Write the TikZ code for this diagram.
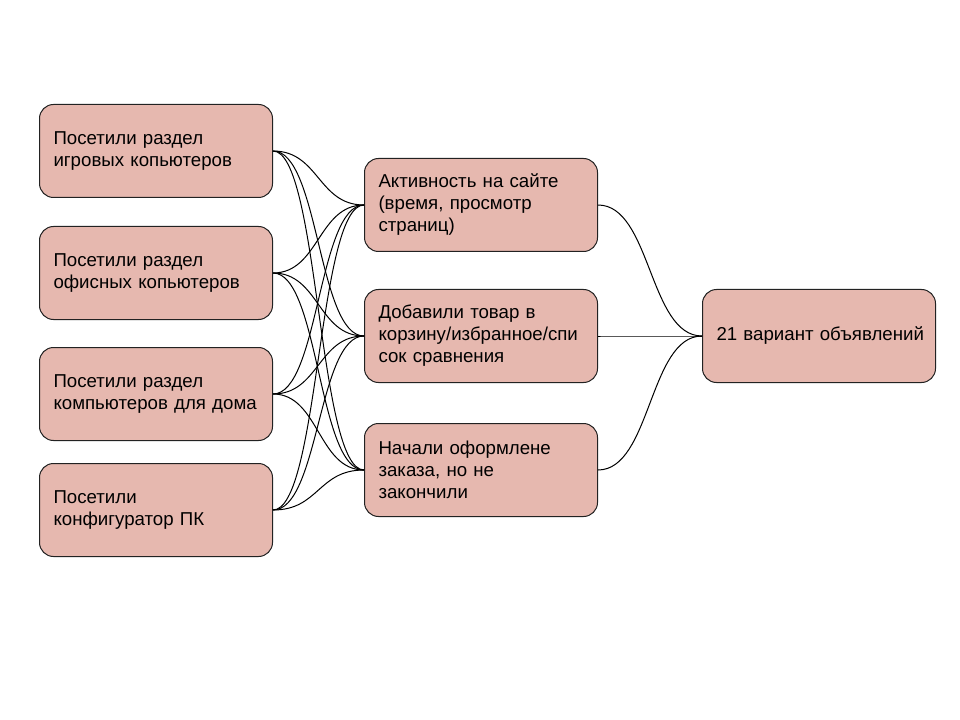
\documentclass[tikz,border=0pt]{standalone}
\usepackage{fontspec}
\setmainfont{Liberation Sans}
\definecolor{boxfill}{HTML}{E6B8AF}
\definecolor{boxline}{HTML}{222222}
\begin{document}
\begin{tikzpicture}[x=0.75pt,y=-0.75pt,
  box/.style={draw=boxline, line width=0.75pt, fill=boxfill, rounded corners=10.5pt,
    minimum width=174.75pt, minimum height=69.75pt, text width=153.75pt,
    align=left, inner xsep=10.5pt, inner ysep=0pt,
    font=\fontsize{14}{16.5}\selectfont, anchor=north west},
  link/.style={line width=0.75pt, draw=black}]
\useasboundingbox (0,0) rectangle (960,720);
\node[box] (l1) at (39,104) {Посетили раздел\\игровых копьютеров};
\node[box] (l2) at (39,226) {Посетили раздел\\офисных копьютеров};
\node[box] (l3) at (39,347) {Посетили раздел\\компьютеров для дома};
\node[box] (l4) at (39,463) {Посетили\\конфигуратор ПК};
\node[box] (m1) at (364,158) {Активность на сайте\\(время, просмотр\\страниц)};
\node[box] (m2) at (364,289) {Добавили товар в\\корзину/избранное/спи\\сок сравнения};
\node[box] (m3) at (364,423) {Начали оформлене\\заказа, но не\\закончили};
\node[box] (r) at (702,289) {\mbox{21 вариант объявлений}};
\foreach \a in {l1,l2,l3,l4}{
  \foreach \b in {m1,m2,m3}{
    \draw[link] (\a.east) .. controls +(46,0) and +(-46,0) .. (\b.west);
  }
}
\foreach \b in {m1,m2,m3}{
  \draw[link] (\b.east) .. controls +(53,0) and +(-53,0) .. (r.west);
}
\end{tikzpicture}
\end{document}
